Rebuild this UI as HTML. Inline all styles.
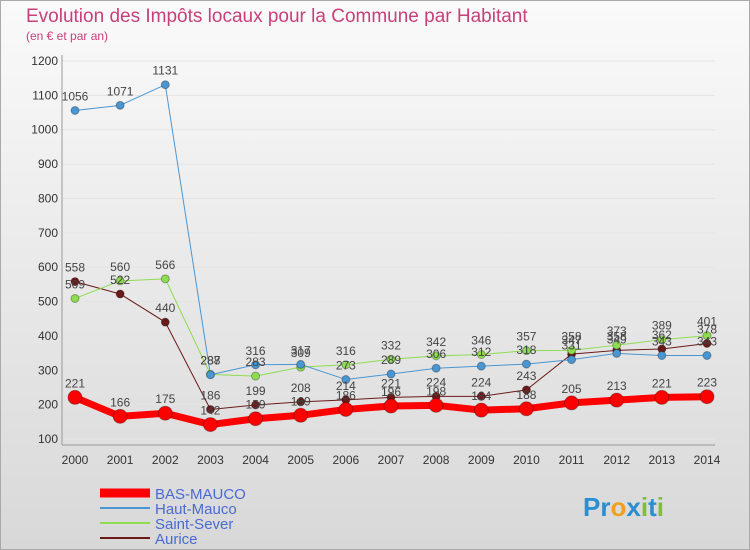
<!DOCTYPE html>
<html><head><meta charset="utf-8"><style>
body{margin:0;width:750px;height:550px;overflow:hidden;font-family:"Liberation Sans",sans-serif}
svg{display:block}
</style></head><body>
<svg width="750" height="550">
<defs><linearGradient id="bg" x1="0" y1="0" x2="0" y2="1"><stop offset="0" stop-color="#fafafa"/><stop offset="1" stop-color="#d8d8d8"/></linearGradient></defs>
<rect x="0.5" y="0.5" width="749" height="549" fill="url(#bg)" stroke="#aaa"/>
<text x="26" y="22" font-size="19" fill="#c8407a">Evolution des Impôts locaux pour la Commune par Habitant</text>
<text x="26" y="40" font-size="12" fill="#c8407a">(en € et par an)</text>
<g id="grid"></g><g id="axes"></g><g id="series"></g><g id="labels"></g>
<g id="legend"></g>
<text x="583" y="516" font-size="26" font-weight="bold" fill="#2a8fd0">Pr<tspan fill="#f0a020">o</tspan><tspan fill="#2a8fd0">x</tspan><tspan fill="#80c030">i</tspan><tspan fill="#2a8fd0">t</tspan><tspan fill="#80c030">i</tspan></text>
</svg>
<script>
const years=[2000,2001,2002,2003,2004,2005,2006,2007,2008,2009,2010,2011,2012,2013,2014];
const basMauco=[221,166,175,142,159,169,186,196,198,184,188,205,213,221,223];
const hautMauco=[1056,1071,1131,287,316,317,273,289,306,312,318,331,349,343,343];
const saintSever=[509,560,566,288,283,309,316,332,342,346,357,358,373,389,401];
const aurice=[558,522,440,186,199,208,214,221,224,224,243,347,358,362,378];
const yTicks=[100,200,300,400,500,600,700,800,900,1000,1100,1200];
const NS="http://www.w3.org/2000/svg";
const X=i=>75+i*(707-75)/(years.length-1);
const Y=v=>439-(v-100)*(439-61)/1100;
function mk(t,a,p){const e=document.createElementNS(NS,t);for(const k in a)e.setAttribute(k,a[k]);p.appendChild(e);return e;}
const grid=document.getElementById('grid'),axes=document.getElementById('axes'),ser=document.getElementById('series'),lab=document.getElementById('labels'),leg=document.getElementById('legend');
yTicks.forEach(v=>{
 const l=mk('line',{x1:62,x2:715,y1:Y(v),y2:Y(v),stroke:'#e4e4e4'},grid);
 
 
 const t=mk('text',{x:58,y:Y(v)+4,'font-size':12,'text-anchor':'end',fill:'#333'},axes);t.textContent=v;
 
 
});
mk('line',{x1:62,x2:62,y1:55,y2:445,stroke:'#999'},axes);
mk('line',{x1:62,x2:715,y1:445,y2:445,stroke:'#999'},axes);
years.forEach((yr,i)=>{
 const t=mk('text',{x:X(i),y:464,'font-size':12,'text-anchor':'middle',fill:'#333'},axes);t.textContent=yr;
 
 
});
const S=[
 {n:'Aurice',d:aurice,c:'#6b1a1a',w:1,r:4},
 {n:'Saint-Sever',d:saintSever,c:'#8edc50',w:1,r:4},
 {n:'Haut-Mauco',d:hautMauco,c:'#4a96d2',w:1,r:4},
 {n:'BAS-MAUCO',d:basMauco,c:'#ff0000',w:7,r:7},
];
S.forEach(s=>{
 const g=mk('g',{},ser);
 
 
 const p=mk('polyline',{points:s.d.map((v,i)=>X(i)+','+Y(v)).join(' '),fill:'none',stroke:s.c,'stroke-width':s.w},g);
 
 
 s.d.forEach((v,i)=>{
  const c=mk('circle',{cx:X(i),cy:Y(v),r:s.r,fill:s.c,stroke:'rgba(0,0,0,0.3)'},g);
  
  
  const t=mk('text',{x:X(i),y:Y(v)-10,'font-size':12,'text-anchor':'middle',fill:'#444'},lab);t.textContent=v;
  
  
 });
});
const L=[{n:'BAS-MAUCO',c:'#ff0000',w:9},{n:'Haut-Mauco',c:'#4a96d2',w:2},{n:'Saint-Sever',c:'#8edc50',w:2},{n:'Aurice',c:'#6b1a1a',w:2}];
L.forEach((l,i)=>{
 const y=493+i*15;
 const g=mk('g',{},leg);
 
 
 mk('line',{x1:100,x2:150,y1:y,y2:y,stroke:l.c,'stroke-width':l.w},g);
 const t=mk('text',{x:155,y:y+6,'font-size':15,fill:'#4a6ad2'},g);t.textContent=l.n;
});
</script>
</body></html>
